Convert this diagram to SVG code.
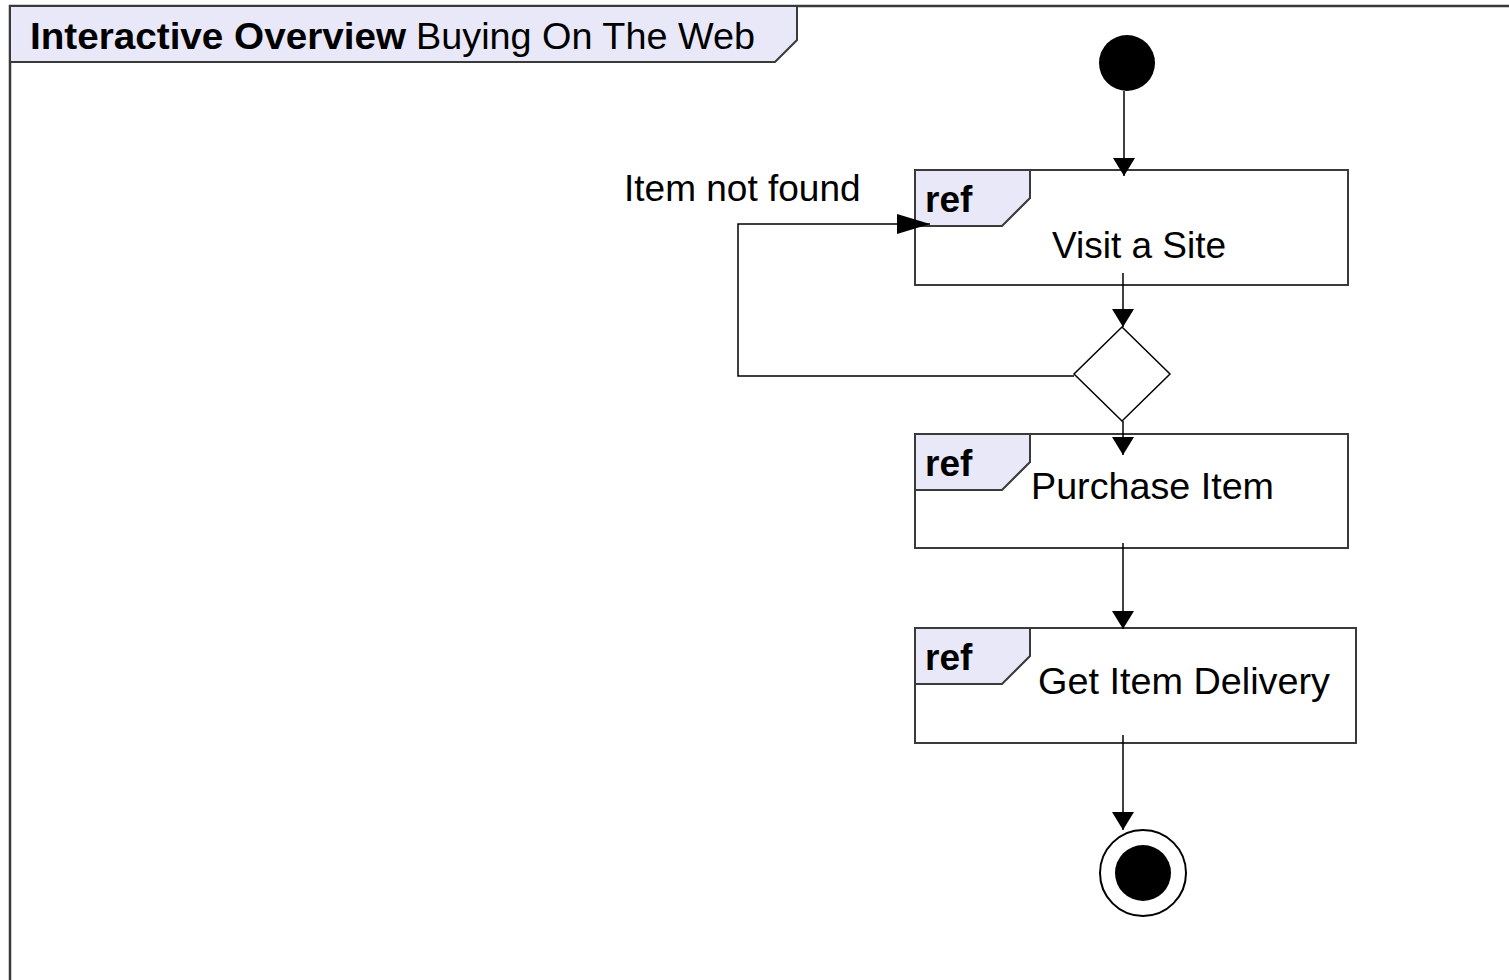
<svg xmlns="http://www.w3.org/2000/svg" width="1509" height="980" viewBox="0 0 1509 980">
<style>
.frame{fill:none;stroke:#3a3a3a;stroke-width:2.5}
.tab{fill:#e8e8f8;stroke:#3a3a3a;stroke-width:2}
.box{fill:#fff;stroke:#3a3a3a;stroke-width:2}
.edge{fill:none;stroke:#000;stroke-width:1.5}
.t{font-family:"Liberation Sans",Arial,sans-serif;font-size:37px;fill:#000}
.b{font-weight:bold}
</style>
<defs>
<marker id="arr" markerUnits="userSpaceOnUse" markerWidth="20" markerHeight="24" refX="18" refY="11" orient="auto">
<path d="M0,0 L18,11 L0,22 Z" fill="#000"/>
</marker>
<marker id="arrL" markerUnits="userSpaceOnUse" markerWidth="34" markerHeight="22" refX="33" refY="10" orient="auto">
<path d="M0,0 L33,10 L0,20 Z" fill="#000"/>
</marker>
</defs>
<rect width="1509" height="980" fill="#fff"/>
<g id="frame">
<path class="frame" d="M10,980 V6 H1509"/>
<path class="tab" d="M10,6 H797 V40 L775,62 H10 Z"/>
<text class="t b" x="30" y="49" textLength="376" lengthAdjust="spacingAndGlyphs">Interactive Overview</text>
<text class="t" x="416" y="49" textLength="339" lengthAdjust="spacingAndGlyphs">Buying On The Web</text>
</g>
<g id="start">
<circle cx="1127" cy="63" r="28" fill="#000"/>
</g>
<g id="visit">
<rect class="box" x="915" y="170" width="433" height="115"/>
<path class="tab" d="M915,170 H1030 V198 L1002,226 H915 Z"/>
<text class="t b" x="925" y="212">ref</text>
<text class="t" x="1052" y="258">Visit a Site</text>
</g>
<g id="decision">
<path d="M1122,327 L1170,374 L1122,421 L1074,374 Z" fill="#fff" stroke="#000" stroke-width="1.5"/>
</g>
<g id="purchase">
<rect class="box" x="915" y="434" width="433" height="114"/>
<path class="tab" d="M915,434 H1030 V462 L1002,490 H915 Z"/>
<text class="t b" x="925" y="476">ref</text>
<text class="t" x="1031" y="499" textLength="243" lengthAdjust="spacingAndGlyphs">Purchase Item</text>
</g>
<g id="delivery">
<rect class="box" x="915" y="628" width="441" height="115"/>
<path class="tab" d="M915,628 H1030 V656 L1002,684 H915 Z"/>
<text class="t b" x="925" y="670">ref</text>
<text class="t" x="1038" y="694" textLength="292" lengthAdjust="spacingAndGlyphs">Get Item Delivery</text>
</g>
<g id="end">
<circle cx="1143" cy="873" r="43" fill="#fff" stroke="#000" stroke-width="2"/>
<circle cx="1143" cy="873" r="28" fill="#000"/>
</g>
<g id="connectors">
<path class="edge" d="M1124,91 V176" marker-end="url(#arr)"/>
<path class="edge" d="M1123,273 V327" marker-end="url(#arr)"/>
<path class="edge" d="M1074,376 H738 V224 H930" marker-end="url(#arrL)"/>
<path class="edge" d="M1123,421 V455" marker-end="url(#arr)"/>
<path class="edge" d="M1123,543 V629" marker-end="url(#arr)"/>
<path class="edge" d="M1123,735 V830" marker-end="url(#arr)"/>
<text class="t" x="624" y="201">Item not found</text>
</g>
</svg>
